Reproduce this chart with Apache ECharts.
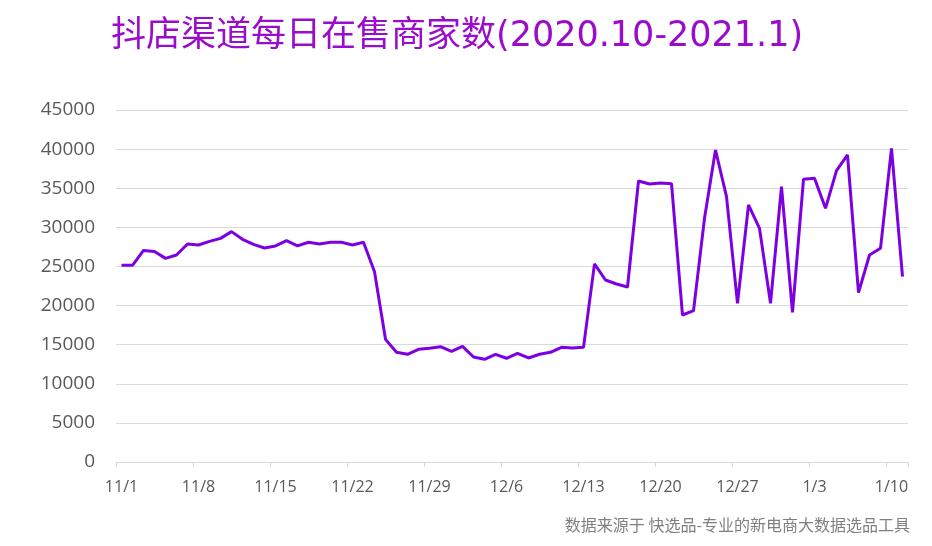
<!DOCTYPE html>
<html>
<head>
<meta charset="utf-8">
<script src="https://cdn.jsdelivr.net/npm/echarts@6/dist/echarts.min.js"></script>
<style>
  html, body { margin: 0; padding: 0; background: #fff; }
  #chart { width: 932px; height: 546px; }
</style>
</head>
<body>
<div id="chart"></div>
<script>
// 日期（11/1 - 1/11）
var days = [
  '11/1','11/2','11/3','11/4','11/5','11/6','11/7','11/8','11/9','11/10',
  '11/11','11/12','11/13','11/14','11/15','11/16','11/17','11/18','11/19','11/20',
  '11/21','11/22','11/23','11/24','11/25','11/26','11/27','11/28','11/29','11/30',
  '12/1','12/2','12/3','12/4','12/5','12/6','12/7','12/8','12/9','12/10',
  '12/11','12/12','12/13','12/14','12/15','12/16','12/17','12/18','12/19','12/20',
  '12/21','12/22','12/23','12/24','12/25','12/26','12/27','12/28','12/29','12/30',
  '12/31','1/1','1/2','1/3','1/4','1/5','1/6','1/7','1/8','1/9',
  '1/10','1/11'
];

// 每日在售商家数
var sellers = [
  25150, 25150, 27050, 26920, 26030, 26460, 27870, 27740, 28210, 28590,
  29450, 28470, 27830, 27360, 27620, 28290, 27620, 28090, 27870, 28090,
  28090, 27740, 28090, 24330, 15680, 14020, 13770, 14410, 14530, 14740,
  14150, 14790, 13420, 13130, 13770, 13260, 13900, 13300, 13770, 14020,
  14660, 14570, 14660, 25330, 23270, 22760, 22370, 35920, 35540, 35670,
  35580, 18790, 19340, 31150, 39890, 33920, 20290, 32860, 29870, 20290,
  35200, 19140, 36140, 36270, 32430, 37240, 39250, 21650, 26460, 27320,
  40100, 23690
];

var yTicks = { min: 0, max: 45000, interval: 5000 };

var chart = echarts.init(document.getElementById('chart'));

chart.setOption({
  animation: false,
  title: {
    text: '抖店渠道每日在售商家数(2020.10-2021.1)',
    left: 106,
    top: 14,
    textStyle: {
      color: '#9B0BCB',
      fontSize: 35,
      fontWeight: 'normal',
      fontFamily: '"DejaVu Sans", "Noto Sans CJK SC", sans-serif'
    }
  },
  grid: {
    left: 116,
    right: 24,
    top: 110,
    bottom: 84
  },
  xAxis: {
    type: 'category',
    data: days,
    boundaryGap: true,
    axisLine: { lineStyle: { color: '#d9d9d9', width: 1 } },
    axisTick: { show: true, interval: 6, length: 5, lineStyle: { color: '#d9d9d9' } },
    axisLabel: {
      interval: 6,
      margin: 17,
      color: '#595959',
      fontSize: 16,
      fontFamily: '"Open Sans", "Noto Sans", sans-serif'
    },
    splitLine: { show: false }
  },
  yAxis: {
    type: 'value',
    min: yTicks.min,
    max: yTicks.max,
    interval: yTicks.interval,
    axisLine: { show: false },
    axisTick: { show: false },
    axisLabel: {
      margin: 21,
      color: '#595959',
      fontSize: 19,
      fontFamily: '"Open Sans", "Noto Sans", sans-serif',
      formatter: function(v) { return String(v); }
    },
    splitLine: { lineStyle: { color: '#d9d9d9', width: 1 } }
  },
  series: [{
    type: 'line',
    data: sellers,
    showSymbol: false,
    smooth: false,
    lineStyle: { color: '#7D00E3', width: 3 },
    itemStyle: { color: '#7D00E3' }
  }],
  graphic: [{
    type: 'text',
    right: 22,
    top: 517,
    style: {
      text: '数据来源于 快选品-专业的新电商大数据选品工具',
      fill: '#808080',
      fontSize: 16,
      fontFamily: '"Noto Sans CJK SC", sans-serif'
    }
  }]
});
</script>
</body>
</html>
